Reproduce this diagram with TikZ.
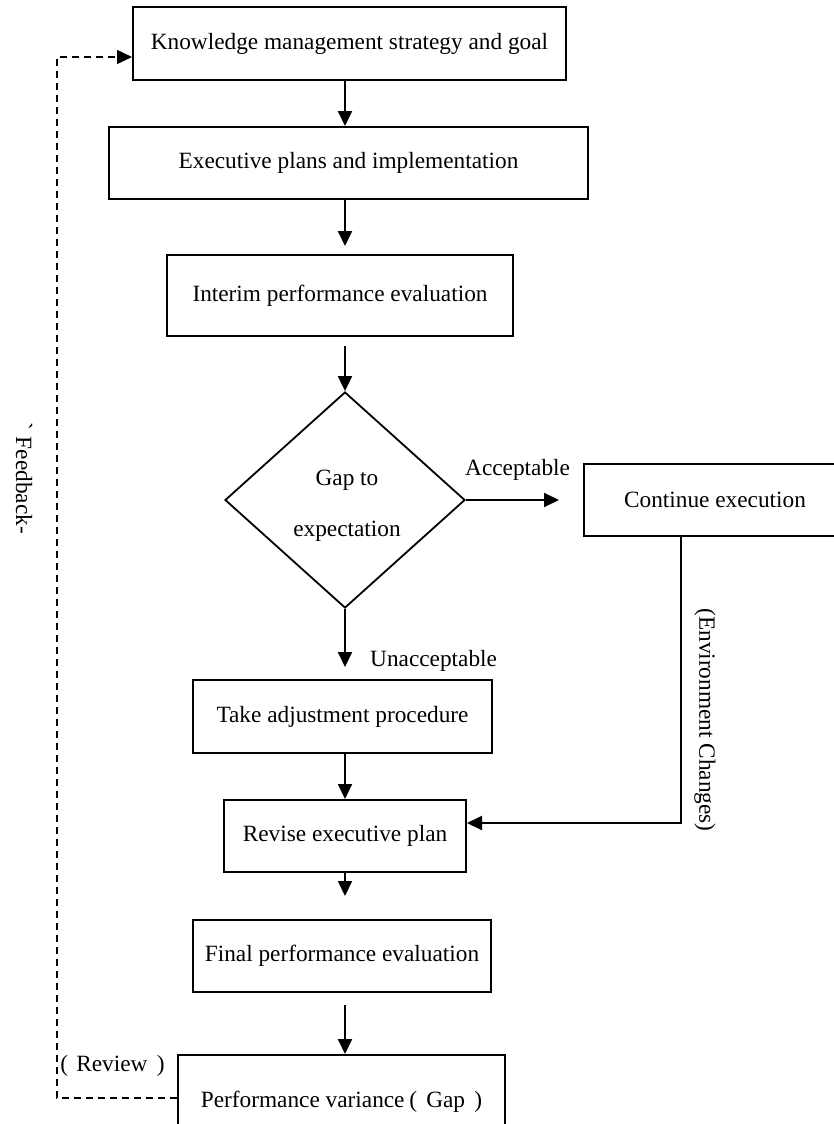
\documentclass[tikz,border=0pt]{standalone}
\usepackage{fontspec}
\setmainfont{Liberation Serif}
\usetikzlibrary{shapes.geometric,arrows.meta}
\begin{document}
\begin{tikzpicture}[x=1pt,y=-1pt,
  every node/.style={font=\fontsize{23.3}{28}\selectfont},
  box/.style={draw, line width=2pt, inner sep=0pt},
  decision/.style={diamond, draw, line width=1.8pt, inner sep=0pt,
    minimum width=240pt, minimum height=216pt},
  flow/.style={line width=2pt, -{Triangle[length=15pt,width=14pt]}},
  fb/.style={line width=1.5pt, dash pattern=on 7pt off 5pt,
    -{Triangle[length=15pt,width=14pt]}},
  lbl/.style={inner sep=0pt}]
\useasboundingbox (0,0) rectangle (833,1124);
\fill[white] (0,0) rectangle (833,1124);

% process boxes
\node[box, minimum width=433pt, minimum height=73pt] (goal) at (349.5,43.5)
  {Knowledge management strategy and goal};
\node[box, minimum width=479pt, minimum height=72pt] (exec) at (348.5,163)
  {Executive plans and implementation};
\node[box, minimum width=346pt, minimum height=81pt] (interim) at (340,295.5)
  {Interim performance evaluation};
\node[decision] (gap) at (345,500) {};
\node[lbl, align=center] (gaptext) at (347,506) {Gap to\\[23pt]expectation};
\node[box, minimum width=262pt, minimum height=72pt] (cont) at (715,500)
  {Continue execution};
\node[box, minimum width=299pt, minimum height=73pt] (take) at (342.5,716.5)
  {Take adjustment procedure};
\node[box, minimum width=242pt, minimum height=72pt] (revise) at (345,836)
  {Revise executive plan};
\node[box, minimum width=298pt, minimum height=72pt] (final) at (342,956)
  {Final performance evaluation};
\node[box, minimum width=327pt, minimum height=94pt] (variance) at (341.5,1102)
  {Performance variance\hspace{0.2em}(\hspace{0.4em}Gap\hspace{0.4em})};

% labels
\node[lbl, anchor=west] (acc) at (465,470) {Acceptable};
\node[lbl, anchor=west] (unacc) at (370,661) {Unacceptable};
\node[lbl] (review) at (112.5,1066) {(\hspace{0.35em}Review\hspace{0.4em})};
\node[lbl, rotate=-90] (feedback) at (24,478) {ˋ\hspace{0.3em}Feedback-};
\node[lbl, rotate=-90] (env) at (705,720) {(Environment Changes)};

% helper coordinates
\coordinate (spine) at (345,0);
\coordinate (envx) at (681,0);
\coordinate (fbx) at (57,0);
\coordinate (fbin) at ([yshift=-13.5pt]goal.west);
\coordinate (envin) at ([yshift=13pt]revise.east);

% main flow
\draw[flow] (goal.south -| spine) -- (exec.north -| spine);
\draw[flow, shorten >=8pt] (exec.south -| spine) -- (interim.north -| spine);
\draw[flow, shorten <=9pt] (interim.south -| spine) -- (gap.north);
\draw[flow, shorten >=24pt] (gap.east) -- (cont.west);
\draw[flow, shorten >=12pt] (gap.south) -- (take.north -| gap.south);
\draw[flow] (take.south -| spine) -- (revise.north -| spine);
\draw[flow, shorten >=23pt] (revise.south -| spine) -- (final.north -| spine);
\draw[flow, shorten <=12pt] (final.south -| spine) -- (variance.north -| spine);

% environment changes path
\draw[flow] (cont.south -| envx) |- (envin);

% feedback loop
\draw[fb] ([yshift=4pt]variance.west) -| (fbx |- fbin) -- (fbin);
\end{tikzpicture}
\end{document}
